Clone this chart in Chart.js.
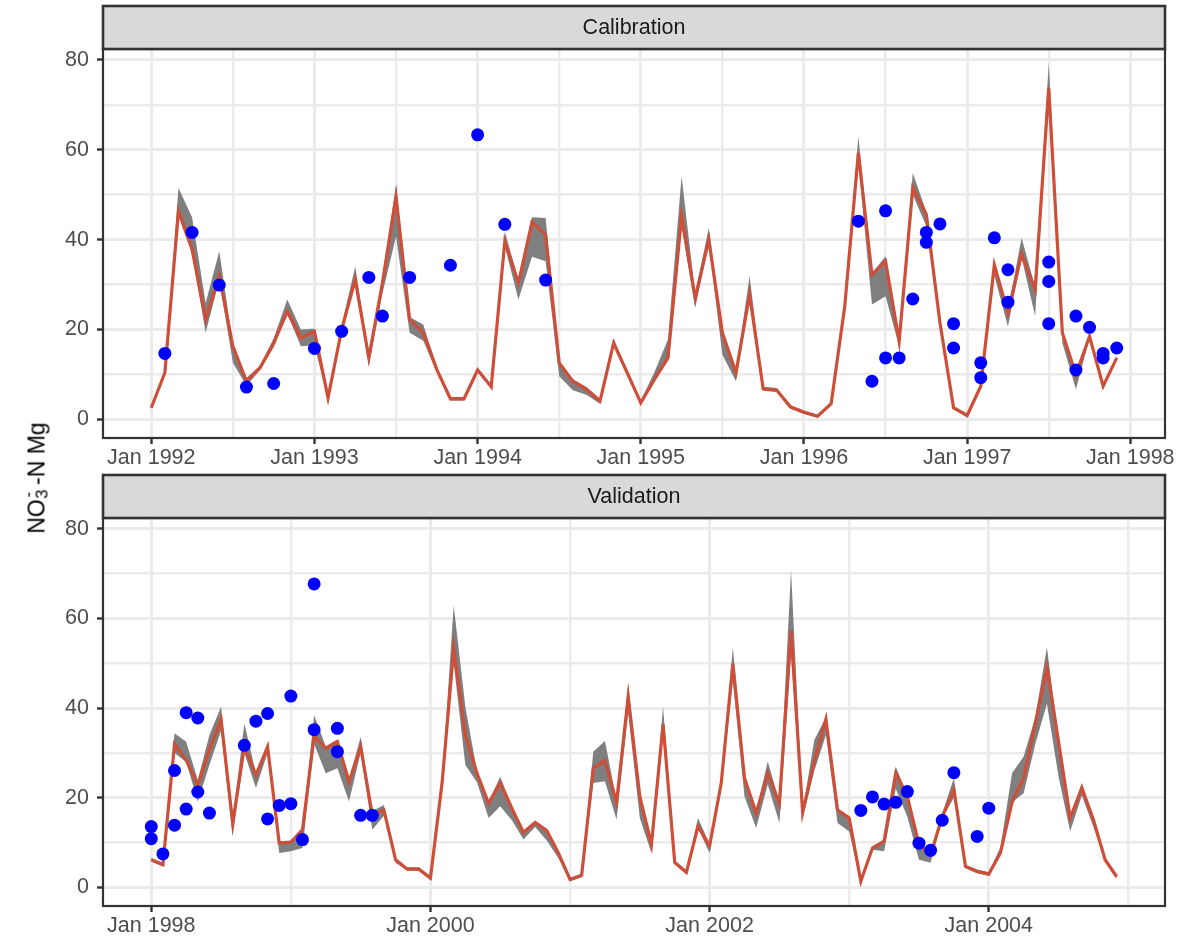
<!DOCTYPE html>
<html>
<head>
<meta charset="utf-8">
<script src="https://cdn.jsdelivr.net/npm/chart.js@4/dist/chart.umd.min.js"></script>
<style>
  body { margin: 0; background: #ffffff; width: 1201px; height: 937px; position: relative; overflow: hidden; }
  canvas { position: absolute; left: 0; }
  #calCanvas { top: 0; }
  #valCanvas { top: 469px; }
  #ytitle {
    position: absolute; left: 37px; top: 478px;
    transform: translate(-50%, -50%) rotate(-90deg);
    font-family: "Liberation Sans", Arial, sans-serif; font-size: 23px; color: #000;
    white-space: nowrap; line-height: 1;
  }
  #ytitle .ss { position: relative; display: inline-block; width: 0.62em; height: 1em; vertical-align: top; }
  #ytitle .sup { position: absolute; left: 0.1em; top: -0.28em; font-size: 0.72em; }
  #ytitle .sub { position: absolute; left: 0.03em; top: 0.52em; font-size: 0.72em; }
</style>
</head>
<body>
<canvas id="calCanvas" width="1201" height="469"></canvas>
<canvas id="valCanvas" width="1201" height="468"></canvas>
<div id="ytitle">NO<span class="ss"><span class="sup">-</span><span class="sub">3</span></span>-N Mg</div>
<script>
// calibration period, monthly from Jan 1992
var calStartYear = 1992;
var calLine = [2.6, 10.4, 46.3, 37.8, 22.2, 31.9, 16.3, 8.5, 11.5, 17, 24, 18.1,
  19.6, 4.8, 20, 31.1, 13.7, 30.4, 49.6, 22.2, 19.3, 11.1, 4.6, 4.6,
  11, 7.3, 39.6, 30.4, 43.9, 41.1, 12.6, 8.5, 6.7, 4.1, 17, 10.4,
  3.7, 8.9, 13.7, 45.2, 27, 40, 19.3, 10.4, 27.8, 6.8, 6.5, 2.8,
  1.6, 0.7, 3.5, 25.2, 59.3, 32.2, 35.2, 17.4, 51.5, 45.6, 21.5, 2.6,
  0.9, 7.4, 34.4, 23.7, 36.7, 28.9, 73.7, 19.3, 10, 18.5, 7.4, 13.7];
var calUpper = [3.0, 11.0, 51.5, 45.0, 25.9, 37.4, 16.8, 9.2, 12.0, 18.0, 26.7, 20.0,
  20.2, 5.3, 21.0, 34.0, 14.3, 31.5, 52.2, 22.8, 21.1, 11.8, 5.0, 5.0,
  11.5, 7.8, 41.8, 31.0, 45.0, 44.8, 13.0, 9.0, 7.2, 4.6, 18.0, 10.9,
  4.2, 10.5, 17.8, 54.1, 28.0, 42.6, 20.0, 10.8, 31.9, 7.3, 7.0, 3.2,
  2.0, 1.1, 4.0, 26.0, 63.0, 32.5, 36.3, 18.0, 54.8, 46.2, 22.0, 3.0,
  1.3, 8.0, 35.0, 24.2, 40.4, 29.5, 79.3, 19.8, 10.5, 19.0, 7.8, 14.1];
var calLower = [2.2, 9.9, 45.5, 37.0, 19.3, 31.0, 12.6, 7.5, 11.0, 16.0, 23.5, 16.3,
  16.5, 4.4, 19.5, 30.0, 11.9, 28.0, 40.7, 19.3, 17.5, 10.5, 4.2, 4.2,
  10.5, 6.9, 38.5, 26.7, 36.2, 35.2, 9.6, 6.5, 5.5, 3.5, 16.5, 10.0,
  3.3, 8.5, 13.2, 43.0, 24.8, 39.0, 14.4, 8.5, 27.0, 6.4, 6.1, 2.4,
  1.2, 0.4, 3.1, 24.8, 57.0, 25.6, 27.4, 16.3, 50.0, 43.0, 21.0, 2.2,
  0.5, 7.0, 32.0, 20.7, 36.0, 23.0, 72.0, 17.0, 6.7, 18.0, 6.8, 13.3];
var calObsMonth = [1, 3, 5, 7, 9, 12, 14, 16, 17, 19, 22, 24, 26, 29,
  52, 53, 54, 54, 55, 56, 57, 57, 58, 59, 59, 61, 61, 62, 63, 63,
  66, 66, 66, 68, 68, 69, 70, 70, 71];
var calObsValue = [14.7, 41.6, 29.9, 7.2, 8, 15.8, 19.6, 31.6, 23, 31.6, 34.3, 63.3, 43.4, 31,
  44.1, 8.5, 46.4, 13.7, 13.7, 26.8, 41.6, 39.4, 43.5, 21.3, 15.9, 12.6, 9.3, 40.4, 33.3, 26.1,
  35, 30.7, 21.3, 23, 11, 20.5, 14.7, 13.7, 15.9];
var calXTicks = [0, 6, 12, 18, 24, 30, 36, 42, 48, 54, 60, 66, 72];

// validation period, monthly from Jan 1998
var valStartYear = 1998;
var valLine = [6.2, 5.1, 32, 28.4, 22.9, 30.7, 37.5, 14.4, 31.4, 25.1, 31.4, 9.9,
  10.1, 12.9, 33.8, 31, 32.5, 23.6, 31.4, 16.2, 17.3, 6.2, 4.1, 4.1,
  2.1, 23.3, 53.3, 34, 25.5, 18.8, 23.3, 17.7, 12.3, 14.5, 12.7, 7.7,
  1.8, 2.7, 26.6, 28.3, 19, 42.5, 20.3, 9.6, 36.4, 5.6, 3.4, 13.6,
  9.3, 23.3, 49.9, 24.4, 16.6, 25.5, 18.8, 57.3, 16.7, 28.1, 37.5, 17.3,
  15.5, 1.4, 8.8, 10.3, 25.5, 20.3, 9.6, 7.3, 15.8, 21.8, 4.7, 3.6,
  3, 7.7, 19, 24.4, 36.6, 49.2, 32.5, 15.5, 22.2, 15.1, 6.2, 2.4];
var valUpper = [6.6, 5.5, 34.4, 32.5, 24.0, 34.0, 40.3, 15.0, 36.6, 25.5, 32.0, 10.3,
  10.5, 13.0, 38.4, 31.5, 33.0, 24.0, 33.6, 17.0, 18.4, 6.6, 4.5, 4.5,
  2.5, 23.8, 62.9, 40.3, 26.0, 19.2, 24.7, 18.1, 12.7, 14.9, 13.1, 8.1,
  2.2, 3.1, 30.3, 32.7, 19.4, 45.5, 20.7, 10.0, 40.3, 6.0, 3.8, 15.5,
  9.7, 23.7, 53.6, 24.8, 17.0, 28.1, 19.2, 70.7, 17.1, 32.9, 38.0, 17.7,
  15.9, 1.8, 9.2, 10.7, 27.0, 20.7, 10.0, 7.7, 16.5, 24.4, 5.1, 4.0,
  3.4, 9.0, 25.5, 29.2, 38.0, 53.6, 33.0, 16.0, 23.3, 15.5, 6.6, 2.8];
var valLower = [5.8, 4.7, 30.0, 28.0, 19.2, 27.3, 35.0, 11.4, 30.0, 22.2, 30.0, 7.7,
  8.1, 8.8, 32.0, 25.5, 26.6, 19.2, 30.0, 12.9, 16.0, 5.5, 3.8, 3.7,
  1.7, 22.8, 50.0, 27.3, 23.5, 15.5, 18.1, 15.0, 10.7, 13.5, 10.5, 6.5,
  1.4, 2.3, 23.3, 23.7, 15.1, 39.0, 15.5, 7.7, 34.0, 5.2, 3.0, 13.2,
  7.7, 22.9, 46.0, 20.3, 13.3, 23.0, 14.4, 52.0, 15.5, 26.0, 34.0, 14.4,
  12.5, 1.0, 8.4, 8.1, 22.0, 15.8, 6.2, 5.5, 15.4, 20.0, 4.3, 3.2,
  2.6, 7.3, 19.0, 21.0, 32.0, 41.0, 24.7, 12.5, 20.5, 13.5, 5.8, 2.0];
var valObsMonth = [0, 0, 1, 2, 2, 3, 3, 4, 4, 5, 8, 9, 10, 10, 11, 12, 12, 13, 14, 14, 16, 16, 18, 19,
  61, 62, 63, 64, 65, 66, 67, 68, 69, 71, 72];
var valObsValue = [13.6, 10.9, 7.5, 26.1, 13.9, 39, 17.5, 37.8, 21.3, 16.6, 31.7, 37.1, 38.8, 15.3, 18.3, 42.7, 18.7, 10.7, 67.7, 35.2, 35.5, 30.3, 16.1, 16.1,
  17.2, 20.2, 18.6, 19, 21.4, 9.9, 8.3, 15, 25.6, 11.4, 17.7];
var valXTicks = [0, 12, 24, 36, 48, 60, 72, 84];

var yTicks = [0, 10, 20, 30, 40, 50, 60, 70, 80];

var FONT = '"Liberation Sans", Arial, sans-serif';

function toPoints(arr) {
  return arr.map(function (v, i) { return { x: i, y: v }; });
}

var panelPlugin = {
  id: 'panel',
  afterDraw: function (chart, args, opts) {
    var ctx = chart.ctx, a = chart.chartArea;
    ctx.save();
    // panel border
    ctx.strokeStyle = '#333333';
    ctx.lineWidth = 2.2;
    ctx.strokeRect(a.left, a.top, a.right - a.left, a.bottom - a.top);
    // strip
    var top = 6;
    ctx.fillStyle = '#D9D9D9';
    ctx.fillRect(a.left, top, a.right - a.left, a.top - top);
    ctx.lineWidth = 2.6;
    ctx.strokeRect(a.left, top, a.right - a.left, a.top - top);
    ctx.fillStyle = '#1A1A1A';
    ctx.font = '21.5px ' + FONT;
    ctx.textAlign = 'center';
    ctx.textBaseline = 'middle';
    ctx.fillText(opts.label, (a.left + a.right) / 2, (top + a.top) / 2 + 1);
    ctx.restore();
  }
};

function makeChart(id, label, startYear, line, upper, lower, obsX, obsY, xTicks, majorEvery, xMin, xMax) {
  var obs = obsX.map(function (m, i) { return { x: m, y: obsY[i] }; });
  return new Chart(document.getElementById(id).getContext('2d'), {
    type: 'line',
    data: {
      datasets: [
        { data: obs, showLine: false, pointRadius: 6.5, pointHoverRadius: 6.5,
          pointBackgroundColor: '#0000FF', pointBorderWidth: 0, borderColor: 'rgba(0,0,0,0)' },
        { data: toPoints(line), borderColor: '#CD4F39', borderWidth: 3.2, pointRadius: 0, fill: false, tension: 0 },
        { data: toPoints(upper), borderColor: 'rgba(0,0,0,0)', borderWidth: 0, pointRadius: 0,
          backgroundColor: '#7F7F7F', fill: '+1', tension: 0 },
        { data: toPoints(lower), borderColor: 'rgba(0,0,0,0)', borderWidth: 0, pointRadius: 0, fill: false, tension: 0 }
      ]
    },
    options: {
      responsive: false,
      animation: false,
      layout: { padding: { top: 49, right: 36, left: 0, bottom: 0 } },
      plugins: { legend: { display: false }, tooltip: { enabled: false }, panel: { label: label } },
      scales: {
        x: {
          type: 'linear', min: xMin, max: xMax,
          afterBuildTicks: function (axis) { axis.ticks = xTicks.map(function (v) { return { value: v }; }); },
          afterFit: function (axis) { axis.height = 31; },
          border: { display: false },
          grid: {
            color: '#EBEBEB',
            lineWidth: function (c) { return c.tick && c.tick.value % majorEvery === 0 ? 3 : 2.4; },
            tickColor: function (c) { return c.tick && c.tick.value % majorEvery === 0 ? '#333333' : 'rgba(0,0,0,0)'; },
            tickWidth: 2.4, tickLength: 6
          },
          ticks: {
            autoSkip: false, maxRotation: 0, padding: 1, color: '#4D4D4D',
            font: { family: FONT, size: 21.5 },
            callback: function (v) { return v % majorEvery === 0 ? 'Jan ' + (startYear + v / 12) : ''; }
          }
        },
        y: {
          min: -4.12, max: 82.4,
          afterBuildTicks: function (axis) { axis.ticks = yTicks.map(function (v) { return { value: v }; }); },
          afterFit: function (axis) { axis.width = 103; },
          border: { display: false },
          grid: {
            color: '#EBEBEB',
            lineWidth: function (c) { return c.tick && c.tick.value % 20 === 0 ? 3 : 2.4; },
            tickColor: function (c) { return c.tick && c.tick.value % 20 === 0 ? '#333333' : 'rgba(0,0,0,0)'; },
            tickWidth: 2.4, tickLength: 6
          },
          ticks: {
            padding: 8, color: '#4D4D4D',
            font: { family: FONT, size: 21.5 },
            callback: function (v) { return v % 20 === 0 ? String(v) : ''; }
          }
        }
      }
    },
    plugins: [panelPlugin]
  });
}

var calChart = makeChart('calCanvas', 'Calibration', calStartYear, calLine, calUpper, calLower,
  calObsMonth, calObsValue, calXTicks, 12, -3.55, 74.55);
var valChart = makeChart('valCanvas', 'Validation', valStartYear, valLine, valUpper, valLower,
  valObsMonth, valObsValue, valXTicks, 24, -4.15, 87.15);
</script>
</body>
</html>
